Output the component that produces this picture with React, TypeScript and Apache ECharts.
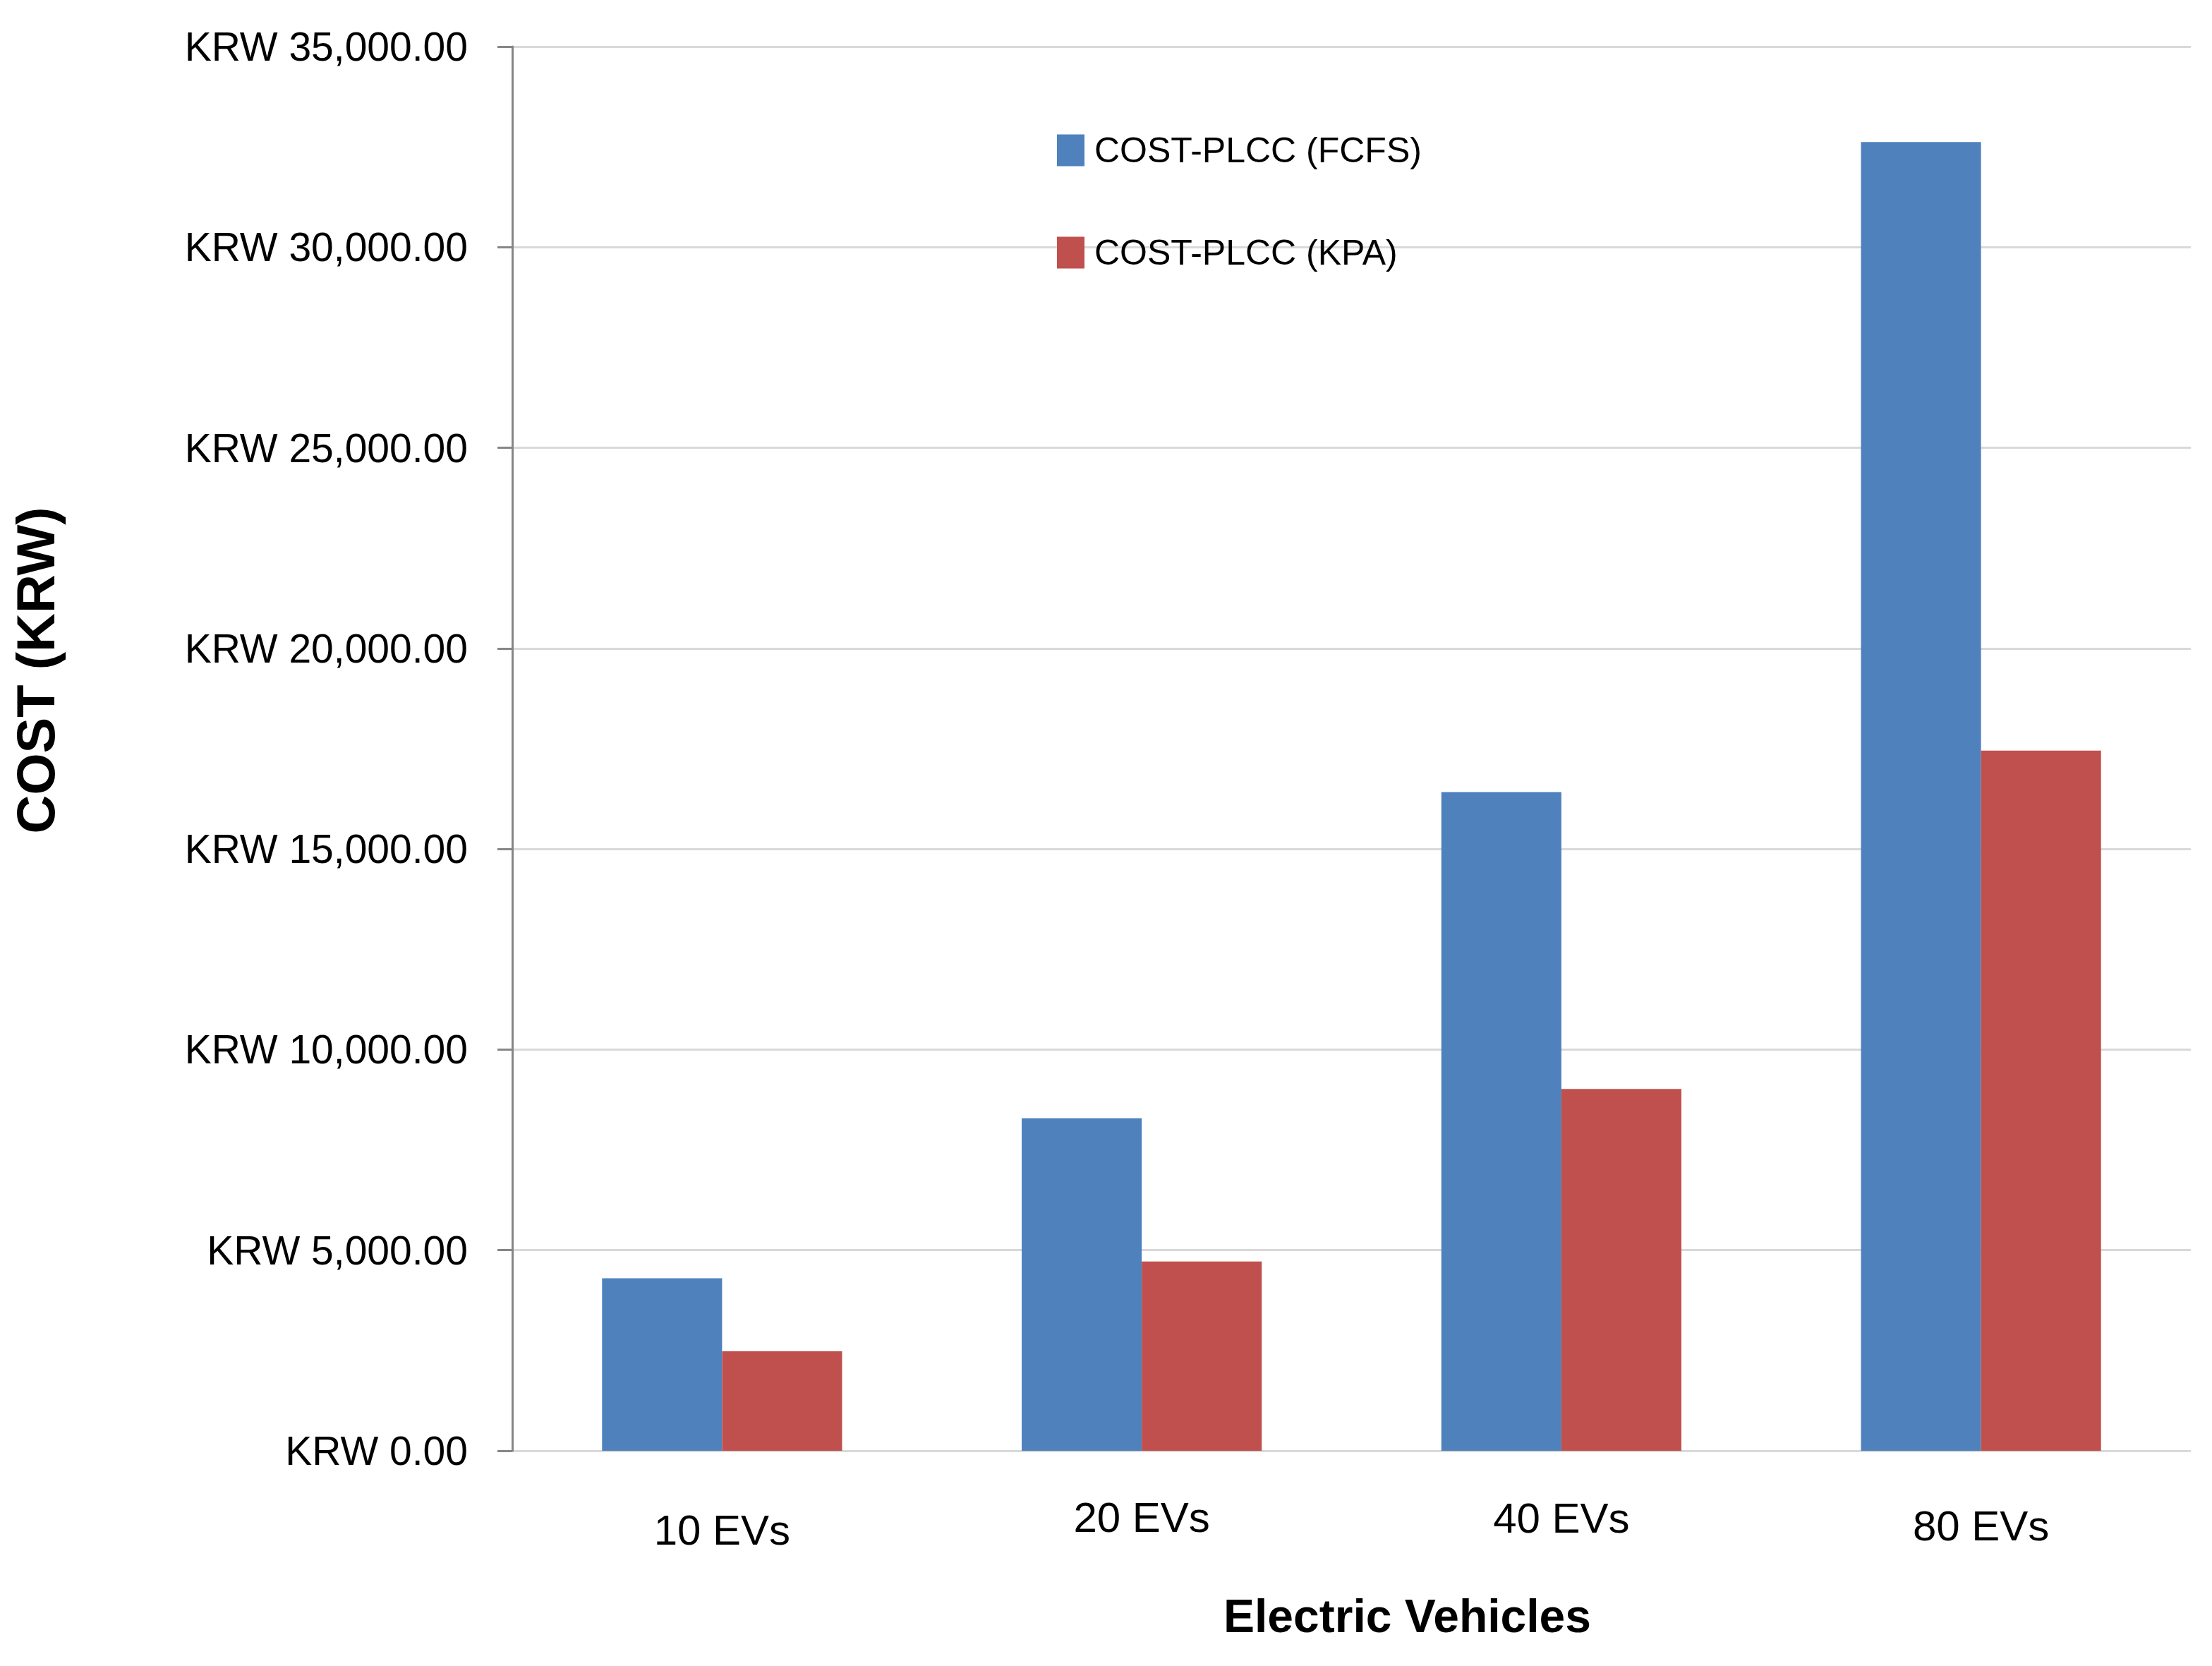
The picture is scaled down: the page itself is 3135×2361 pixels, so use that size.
import * as echarts from "echarts"
import { useEffect, useRef } from "react"

// Cost of charging per fleet size, FCFS scheduling vs KPA scheduling.
const categories = ["10 EVs", "20 EVs", "40 EVs", "80 EVs"]
const fcfsCost = [4300, 8290, 16420, 32620]
const kpaCost = [2480, 4720, 9020, 17450]
const seriesNames = ["COST-PLCC (FCFS)", "COST-PLCC (KPA)"]
const yTicks = { min: 0, max: 35000, step: 5000 }

const FONT = "'Liberation Sans', Arial, sans-serif"

// the category labels in the source sit at slightly uneven heights
const labelDrop = [18, 0, 1, 12]

const krw = (v: number) =>
  "KRW " + v.toLocaleString("en-US", { minimumFractionDigits: 2, maximumFractionDigits: 2 })

export default function App() {
  const ref = useRef<HTMLDivElement>(null)

  useEffect(() => {
    document.body.style.margin = "0"
    if (!ref.current) return
    const chart = echarts.init(ref.current, undefined, { renderer: "svg" })

    chart.setOption({
      animation: false,
      backgroundColor: "#ffffff",
      grid: { left: 726, right: 30, top: 66, bottom: 305, containLabel: false, outerBoundsMode: "none" },
      legend: {
        data: seriesNames,
        orient: "vertical",
        left: 1493,
        top: 183,
        itemWidth: 39,
        itemHeight: 45,
        itemGap: 95,
        icon: "rect",
        textStyle: { fontFamily: FONT, fontSize: 50, color: "#000000", padding: [0, 0, 0, 9] },
      },
      xAxis: {
        type: "category",
        data: categories.map((c, i) => ({ value: c, textStyle: { padding: [labelDrop[i], 0, 0, 0] } })),
        axisLine: { show: false },
        axisTick: { show: false },
        axisLabel: { margin: 64, fontFamily: FONT, fontSize: 60, color: "#000000" },
        name: "Electric Vehicles",
        nameLocation: "middle",
        nameGap: 201,
        nameTextStyle: {
          fontFamily: FONT,
          fontWeight: "bold",
          fontSize: 66,
          color: "#000000",
          padding: [0, 0, 0, 158],
        },
      },
      yAxis: {
        type: "value",
        min: yTicks.min,
        max: yTicks.max,
        interval: yTicks.step,
        axisLine: { show: true, lineStyle: { color: "#868686", width: 3 } },
        axisTick: { show: true, length: 21, lineStyle: { color: "#868686", width: 3 } },
        splitLine: { lineStyle: { color: "#d9d9d9", width: 3 } },
        axisLabel: { margin: 63, fontFamily: FONT, fontSize: 57, color: "#000000", formatter: krw },
        name: "COST (KRW)",
        nameLocation: "middle",
        nameRotate: 90,
        nameGap: 638,
        // sits a bit above the middle of the axis in the source
        nameTextStyle: {
          fontFamily: FONT,
          fontWeight: "bold",
          fontSize: 76,
          color: "#000000",
          padding: [0, 0, 0, 222],
        },
      },
      series: [
        {
          name: seriesNames[0],
          type: "bar",
          data: fcfsCost,
          barGap: "0%",
          barCategoryGap: "42.8%",
          itemStyle: { color: "#4f81bd" },
        },
        {
          name: seriesNames[1],
          type: "bar",
          data: kpaCost,
          barGap: "0%",
          barCategoryGap: "42.8%",
          itemStyle: { color: "#c0504d" },
        },
      ],
    })

    return () => chart.dispose()
  }, [])

  return <div ref={ref} style={{ width: 3135, height: 2361 }} />
}
